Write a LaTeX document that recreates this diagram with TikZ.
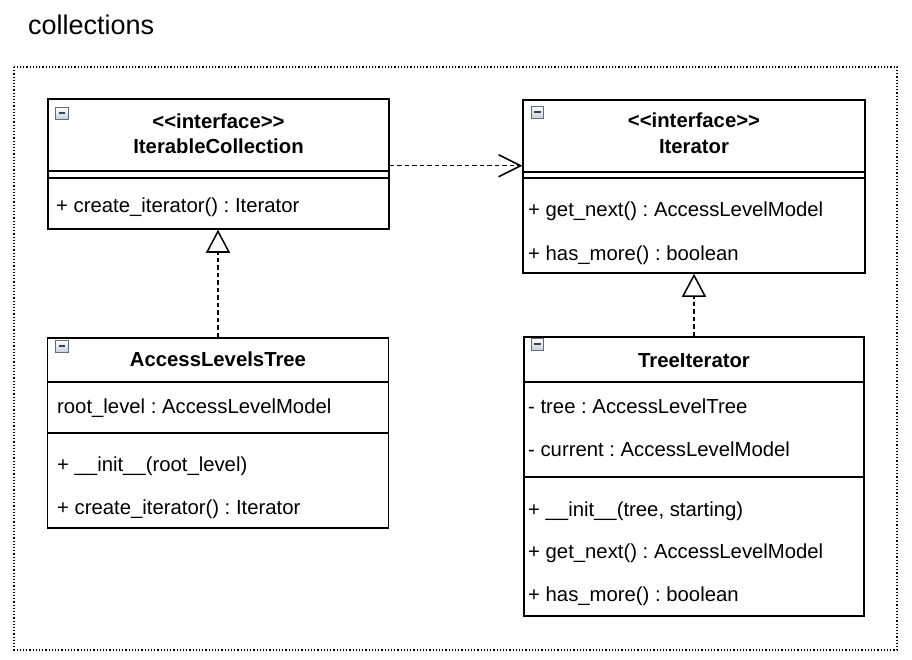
\documentclass[tikz,border=0pt]{standalone}
\usepackage{fontspec}
\setmainfont{Liberation Sans}
\usetikzlibrary{arrows.meta}
\newcommand{\umlst}[1]{<\kern0pt<#1>\kern0pt>}
\definecolor{foldfill}{RGB}{200,210,224}
\definecolor{foldline}{RGB}{100,108,120}
\frenchspacing

\begin{document}
\begin{tikzpicture}[x=1pt,y=-1pt,
	part/.style={draw,line width=1.5pt,inner sep=0pt,minimum width=341pt},
	member/.style={anchor=base west,inner sep=0pt,font=\fontsize{20.3}{24}\selectfont},
	cname/.style={anchor=base,inner sep=0pt,font=\fontsize{20.3}{24}\selectfont\bfseries},
	fold/.style={draw=foldline,top color=white,bottom color=foldfill,line width=0.8pt,minimum width=12.5pt,minimum height=12pt,inner sep=0pt,
		path picture={\draw[line width=2pt,black!75] ([xshift=3pt]path picture bounding box.west) -- ([xshift=-3pt]path picture bounding box.east);}},
	dep/.style={line width=1.5pt,dash pattern=on 4.5pt off 3pt}]
			\useasboundingbox (0,0) rectangle (912,660);
			\node[anchor=base west,inner sep=0pt,font=\fontsize{27}{32}\selectfont] (pkgname) at (28,35) {collections};
			\draw[line width=1.2pt,dotted] (14,67) rectangle (897,650);
			\node[part,minimum height=72pt] (ichead) at (218.5,135) {};
			\node[part,minimum height=7pt] (icattr) at (218.5,174.5) {};
			\node[part,minimum height=51pt] (icops) at (218.5,203.5) {};
			\node[fold] (icfold) at (62,113) {};
			\node[cname] (icst) at (218.5,128.5) {\umlst{interface}};
			\node[cname] (icname) at (218.5,153.5) {IterableCollection};
			\node[member] (icop1) at (56,213) {+ create\_iterator() : Iterator};
			\node[part,minimum width=342pt,minimum height=72pt] (ithead) at (694,136) {};
			\node[part,minimum width=342pt,minimum height=6pt] (itattr) at (694,175) {};
			\node[part,minimum width=342pt,minimum height=95pt] (itops) at (694,225.5) {};
			\node[fold] (itfold) at (537.5,112) {};
			\node[cname] (itst) at (694,127.5) {\umlst{interface}};
			\node[cname] (itname) at (694,153.5) {Iterator};
			\node[member] (itop1) at (528,216.5) {+ get\_next() : AccessLevelModel};
			\node[member] (itop2) at (528,260) {+ has\_more() : boolean};
			\node[part,minimum height=44pt] (athead) at (218,360) {};
			\node[part,minimum height=51pt] (atattr) at (218,407.5) {};
			\node[part,minimum height=95pt] (atops) at (218,480.5) {};
			\node[fold] (atfold) at (62,346) {};
			\node[cname] (atname) at (218,366.5) {AccessLevelsTree};
			\node[member] (atattr1) at (57,413) {root\_level : AccessLevelModel};
			\node[member] (atop1) at (57,471) {+ \_\_init\_\_(root\_level)};
			\node[member] (atop2) at (57,514) {+ create\_iterator() : Iterator};
			\node[part,minimum width=340pt,minimum height=45pt] (tihead) at (694,359.5) {};
			\node[part,minimum width=340pt,minimum height=95pt] (tiattr) at (694,429.5) {};
			\node[part,minimum width=340pt,minimum height=139pt] (tiops) at (694,546.5) {};
			\node[fold] (tifold) at (537.5,344) {};
			\node[cname] (tiname) at (694,367) {TreeIterator};
			\node[member] (tiattr1) at (528,413) {- tree : AccessLevelTree};
			\node[member] (tiattr2) at (528,456) {- current : AccessLevelModel};
			\node[member] (tiop1) at (528,516.5) {+ \_\_init\_\_(tree, starting)};
			\node[member] (tiop2) at (528,558) {+ get\_next() : AccessLevelModel};
			\node[member] (tiop3) at (528,601) {+ has\_more() : boolean};
			\draw[dep,-{Straight Barb[length=22pt,width=22pt,line width=1.5pt]}] ([yshift=6pt]ichead.south east)--([yshift=7pt]ithead.south west);
			\draw[dep,-{Triangle[open,length=23pt,width=24pt,line width=1.5pt]}] (athead.north)--(athead.north |- icops.south);
			\draw[dep,-{Triangle[open,length=23pt,width=24pt,line width=1.5pt]}] (tihead.north)--(itops.south);
		\end{tikzpicture}
\end{document}
